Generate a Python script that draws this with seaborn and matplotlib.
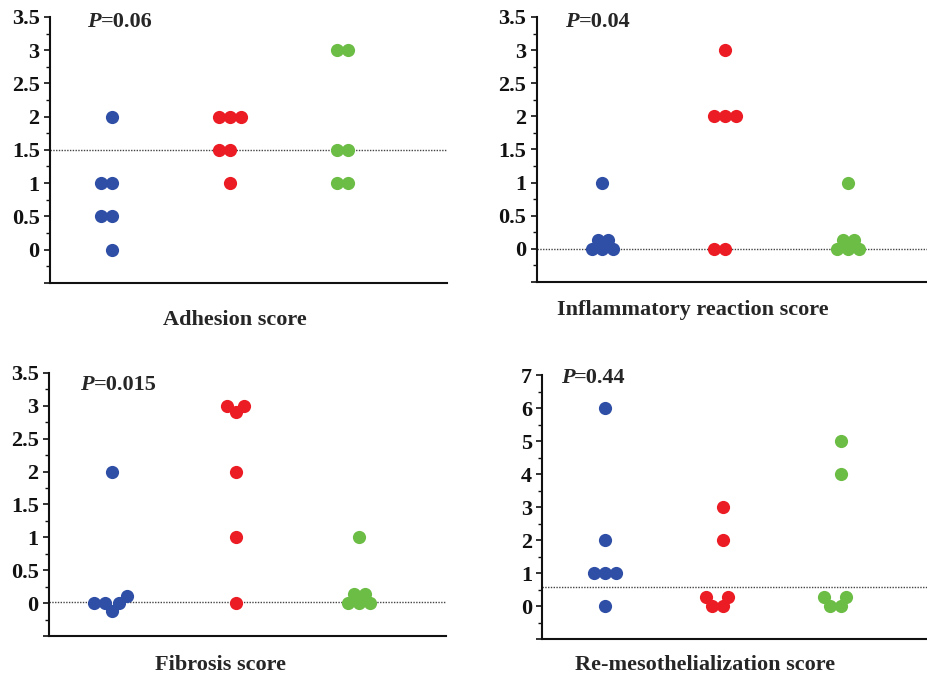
import pandas as pd
import matplotlib.pyplot as plt
import seaborn as sns
from matplotlib.ticker import FixedLocator, MultipleLocator

# groups and colours (no legend in the figure)
groups = ['Group 1', 'Group 2', 'Group 3']
colors = ['#2f4ea6', '#ec1c24', '#6cbd45']

# scores as they appear on the picture (stacked ties read at their drawn height)
adhesion = [[2, 1, 1, 0.5, 0.5, 0],
            [2, 2, 2, 1.5, 1.5, 1],
            [3, 3, 1.5, 1.5, 1, 1]]
inflammation = [[1, 0.14, 0.14, 0, 0, 0],
                [3, 2, 2, 2, 0, 0],
                [1, 0.14, 0.14, 0, 0, 0]]
fibrosis = [[2, 0.11, 0, 0, 0, -0.12],
            [3, 3, 2.9, 2, 1, 0],
            [1, 0.14, 0.14, 0, 0, 0]]
remeso = [[6, 2, 1, 1, 1, 0],
          [3, 2, 0.27, 0.27, 0, 0],
          [5, 4, 0.27, 0.27, 0, 0]]

titles = ['Adhesion score', 'Inflammatory reaction score',
          'Fibrosis score', 'Re-mesothelialization score']
p_values = ['0.06', '0.04', '0.015', '0.44']
ref_lines = [1.5, 0, 0.02, 0.57]

y_ticks_small = [-0.5, 0, 0.5, 1, 1.5, 2, 2.5, 3, 3.5]
y_labels_small = ['', '0', '0.5', '1', '1.5', '2', '2.5', '3', '3.5']
y_ticks_big = [-1, 0, 1, 2, 3, 4, 5, 6, 7]
y_labels_big = ['', '0', '1', '2', '3', '4', '5', '6', '7']

sns.set_style('ticks')
plt.rcParams['font.family'] = ['Liberation Serif', 'DejaVu Serif']
plt.rcParams['font.weight'] = 'bold'

fig = plt.figure(figsize=(9.27, 6.78), dpi=100)

# layout: axes rect, xlim, label pos, P pos
rects = [[0.054, 0.583, 0.428, 0.392],
         [0.579, 0.584, 0.425, 0.391],
         [0.053, 0.062, 0.428, 0.388],
         [0.585, 0.0575, 0.42, 0.389]]
xlims = [(-0.525, 2.84), (-0.535, 2.67), (-0.51, 2.70), (-0.53, 2.77)]
label_pos = [(0.466, -0.139), (0.395, -0.106), (0.431, -0.11), (0.418, -0.098)]
p_pos = [(0.093, 0.98), (0.072, 0.981), (0.078, 0.954), (0.047, 0.989)]

datasets = [adhesion, inflammation, fibrosis, remeso]
axes = []

for i, data in enumerate(datasets):
    ax = fig.add_axes(rects[i])
    axes.append(ax)
    df = pd.DataFrame({
        'group': [g for g, vals in zip(groups, data) for _ in vals],
        'score': [v for vals in data for v in vals],
    })
    ax.axhline(ref_lines[i], color='#444444', lw=1, ls=(0, (1, 1)), zorder=0)
    # swarm spacing a bit tighter than the drawn dots, so ties overlap like the original
    sns.swarmplot(data=df, x='group', y='score', hue='group', order=groups,
                  hue_order=groups, palette=colors, size=7.5, linewidth=0,
                  legend=False, ax=ax, zorder=3)

    if i == 3:
        ticks, labels = y_ticks_big, y_labels_big
        ax.yaxis.set_minor_locator(MultipleLocator(0.5))
    else:
        ticks, labels = y_ticks_small, y_labels_small
        ax.yaxis.set_minor_locator(MultipleLocator(0.25))
    ax.set_ylim(ticks[0], ticks[-1])
    ax.yaxis.set_major_locator(FixedLocator(ticks))
    ax.set_yticklabels(labels)
    ax.set_xlim(*xlims[i])
    ax.set_xticks([])
    ax.set_xlabel('')
    ax.set_ylabel('')

    sns.despine(ax=ax)
    for side in ['left', 'bottom']:
        ax.spines[side].set_linewidth(1.5)
        ax.spines[side].set_color('#111111')
    ax.tick_params(axis='y', which='major', length=4, width=1.2, pad=3.5,
                   labelsize=16, colors='#111111')
    ax.tick_params(axis='y', which='minor', length=3, width=1.0, colors='#111111')
    for lab in ax.get_yticklabels():
        lab.set_fontweight('bold')

    ax.text(label_pos[i][0], label_pos[i][1], titles[i], transform=ax.transAxes,
            ha='center', va='center', fontsize=16, fontweight='bold')

    p_txt = ax.text(p_pos[i][0], p_pos[i][1], 'P', transform=ax.transAxes,
                    ha='left', va='center', fontsize=16, fontweight='bold',
                    fontstyle='italic')
    ax.annotate('=' + p_values[i], xy=(1, 0), xycoords=p_txt, ha='left',
                va='bottom', fontsize=16, fontweight='bold')

# let seaborn lay out the swarms, then redraw the dots a little larger
fig.canvas.draw()
for ax in axes:
    for coll in list(ax.collections):
        xy = coll.get_offsets()
        fc = coll.get_facecolor()[0]
        coll.remove()
        ax.scatter(xy[:, 0], xy[:, 1], s=9.5 ** 2, color=fc, linewidths=0, zorder=3)

plt.savefig('out.png', dpi=100)
